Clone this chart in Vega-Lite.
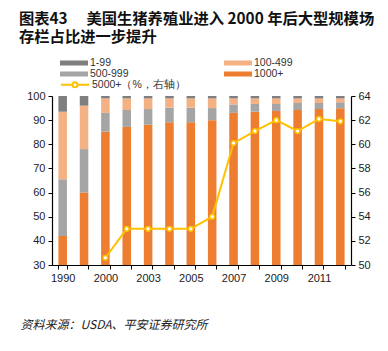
{
  "$schema": "https://vega.github.io/schema/vega-lite/v6.json",
  "width": 299,
  "height": 169,
  "autosize": "none",
  "padding": {"left": 52, "top": 96, "right": 37, "bottom": 86},
  "background": "white",
  "datasets": {
    "bars": [
      {"year": "1990", "size": "1000+", "value": 42},
      {"year": "1990", "size": "500-999", "value": 23.5},
      {"year": "1990", "size": "100-499", "value": 28},
      {"year": "1990", "size": "1-99", "value": 6.5},
      {"year": "1995", "size": "1000+", "value": 60},
      {"year": "1995", "size": "500-999", "value": 18},
      {"year": "1995", "size": "100-499", "value": 18},
      {"year": "1995", "size": "1-99", "value": 4},
      {"year": "2000", "size": "1000+", "value": 85.2},
      {"year": "2000", "size": "500-999", "value": 7.8},
      {"year": "2000", "size": "100-499", "value": 6},
      {"year": "2000", "size": "1-99", "value": 1},
      {"year": "2002", "size": "1000+", "value": 87.2},
      {"year": "2002", "size": "500-999", "value": 7},
      {"year": "2002", "size": "100-499", "value": 4.8},
      {"year": "2002", "size": "1-99", "value": 1},
      {"year": "2003", "size": "1000+", "value": 88.1},
      {"year": "2003", "size": "500-999", "value": 6.5},
      {"year": "2003", "size": "100-499", "value": 4.4},
      {"year": "2003", "size": "1-99", "value": 1},
      {"year": "2004", "size": "1000+", "value": 89.1},
      {"year": "2004", "size": "500-999", "value": 6.1},
      {"year": "2004", "size": "100-499", "value": 3.8},
      {"year": "2004", "size": "1-99", "value": 1},
      {"year": "2005", "size": "1000+", "value": 89.1},
      {"year": "2005", "size": "500-999", "value": 6.1},
      {"year": "2005", "size": "100-499", "value": 3.8},
      {"year": "2005", "size": "1-99", "value": 1},
      {"year": "2006", "size": "1000+", "value": 90},
      {"year": "2006", "size": "500-999", "value": 5},
      {"year": "2006", "size": "100-499", "value": 4},
      {"year": "2006", "size": "1-99", "value": 1},
      {"year": "2007", "size": "1000+", "value": 93},
      {"year": "2007", "size": "500-999", "value": 3.5},
      {"year": "2007", "size": "100-499", "value": 2.5},
      {"year": "2007", "size": "1-99", "value": 1},
      {"year": "2008", "size": "1000+", "value": 93.5},
      {"year": "2008", "size": "500-999", "value": 3.2},
      {"year": "2008", "size": "100-499", "value": 2.3},
      {"year": "2008", "size": "1-99", "value": 1},
      {"year": "2009", "size": "1000+", "value": 93.8},
      {"year": "2009", "size": "500-999", "value": 2.9},
      {"year": "2009", "size": "100-499", "value": 2.3},
      {"year": "2009", "size": "1-99", "value": 1},
      {"year": "2010", "size": "1000+", "value": 94.2},
      {"year": "2010", "size": "500-999", "value": 2.9},
      {"year": "2010", "size": "100-499", "value": 1.9},
      {"year": "2010", "size": "1-99", "value": 1},
      {"year": "2011", "size": "1000+", "value": 94.6},
      {"year": "2011", "size": "500-999", "value": 2.5},
      {"year": "2011", "size": "100-499", "value": 1.9},
      {"year": "2011", "size": "1-99", "value": 1},
      {"year": "2012", "size": "1000+", "value": 94.9},
      {"year": "2012", "size": "500-999", "value": 2.5},
      {"year": "2012", "size": "100-499", "value": 1.6},
      {"year": "2012", "size": "1-99", "value": 1}
    ],
    "line": [
      {"year": "2000", "share": 50.6},
      {"year": "2002", "share": 53},
      {"year": "2003", "share": 53},
      {"year": "2004", "share": 53},
      {"year": "2005", "share": 53},
      {"year": "2006", "share": 54},
      {"year": "2007", "share": 60.1},
      {"year": "2008", "share": 61.1},
      {"year": "2009", "share": 62},
      {"year": "2010", "share": 61.1},
      {"year": "2011", "share": 62.1},
      {"year": "2012", "share": 61.9}
    ]
  },
  "title": {
    "text": ["图表43　 美国生猪养殖业进入 2000 年后大型规模场", "存栏占比进一步提升"],
    "anchor": "start",
    "frame": "group",
    "dx": -33,
    "offset": 12,
    "fontSize": 15.3,
    "fontWeight": "bold",
    "lineHeight": 18,
    "color": "#111111",
    "font": "Noto Sans CJK SC"
  },
  "layer": [
    {
      "data": {"name": "bars"},
      "transform": [
        {"calculate": "datum.size == '1000+' ? 0 : datum.size == '500-999' ? 1 : datum.size == '100-499' ? 2 : 3", "as": "ord"}
      ],
      "mark": {"type": "bar", "clip": true},
      "encoding": {
        "x": {
          "field": "year",
          "type": "ordinal",
          "scale": {"paddingInner": 0.6, "paddingOuter": 0.3},
          "axis": {
            "title": "资料来源：USDA、平安证券研究所",
            "titleAnchor": "start",
            "titleX": -32,
            "titleY": 54,
            "titleFont": "Noto Sans CJK SC",
            "titleFontSize": 12,
            "titleFontStyle": "italic",
            "titleFontWeight": "normal",
            "titleColor": "#222222",
            "labelAngle": 0,
            "tickBand": "extent",
            "labelExpr": "(datum.label == '1990' || datum.label == '2000' || datum.label == '2003' || datum.label == '2005' || datum.label == '2007' || datum.label == '2009' || datum.label == '2011') ? datum.label : ''",
            "labelFont": "Liberation Sans",
            "labelFontSize": 11,
            "labelColor": "#222222",
            "labelPadding": 3,
            "tickSize": 4,
            "tickColor": "#000000",
            "domainColor": "#000000",
            "domainWidth": 1.2
          }
        },
        "y": {
          "field": "value",
          "type": "quantitative",
          "stack": "zero",
          "scale": {"domain": [30, 100], "nice": false},
          "axis": {
            "title": null,
            "orient": "left",
            "values": [30, 40, 50, 60, 70, 80, 90, 100],
            "grid": false,
            "labelFont": "Liberation Sans",
            "labelFontSize": 11,
            "labelColor": "#222222",
            "labelPadding": 3,
            "tickSize": 4,
            "tickColor": "#000000",
            "domainColor": "#000000",
            "domainWidth": 1.2
          }
        },
        "color": {
          "field": "size",
          "type": "nominal",
          "scale": {
            "domain": ["1-99", "500-999", "100-499", "1000+"],
            "range": ["#7F7F7F", "#A5A5A5", "#F4B183", "#ED7D31"]
          },
          "legend": {
            "title": null,
            "orient": "none",
            "legendX": 8,
            "legendY": -38.5,
            "columns": 2,
            "columnPadding": 95,
            "rowPadding": 0,
            "clipHeight": 10.8,
            "symbolType": "M-1,-0.18H1V0.18H-1Z",
            "symbolSize": 784,
            "symbolStrokeWidth": 0,
            "labelFont": "Liberation Sans",
            "labelFontSize": 10.5,
            "labelColor": "#333333",
            "labelOffset": 2
          }
        },
        "order": {"field": "ord", "type": "quantitative"}
      }
    },
    {
      "data": {"name": "line"},
      "mark": {
        "type": "line",
        "strokeWidth": 2,
        "point": {"filled": false, "fill": "white", "size": 22, "strokeWidth": 1.5}
      },
      "encoding": {
        "x": {"field": "year", "type": "ordinal"},
        "y": {
          "field": "share",
          "type": "quantitative",
          "scale": {"domain": [50, 64], "nice": false},
          "axis": {
            "title": null,
            "orient": "right",
            "values": [50, 52, 54, 56, 58, 60, 62, 64],
            "grid": false,
            "labelFont": "Liberation Sans",
            "labelFontSize": 11,
            "labelColor": "#222222",
            "labelPadding": 3,
            "tickSize": 4,
            "tickColor": "#000000",
            "domainColor": "#000000",
            "domainWidth": 1.2
          }
        },
        "stroke": {
          "datum": "5000+（%，右轴）",
          "type": "nominal",
          "scale": {"range": ["#FFC000"]},
          "legend": {
            "title": null,
            "orient": "none",
            "legendX": 8,
            "legendY": -16.7,
            "clipHeight": 10.8,
            "symbolType": "M-1,0H-0.18M0.18,0H1M0.18,0A0.18,0.18 0 1 1 -0.18,0A0.18,0.18 0 1 1 0.18,0",
            "symbolSize": 784,
            "symbolStrokeWidth": 2,
            "symbolFillColor": "white",
            "labelFont": "Liberation Sans",
            "labelFontSize": 10.5,
            "labelColor": "#333333",
            "labelOffset": 2
          }
        }
      }
    }
  ],
  "resolve": {"scale": {"y": "independent", "color": "independent", "stroke": "independent"}},
  "config": {
    "view": {"stroke": null},
    "axis": {"grid": false}
  }
}
